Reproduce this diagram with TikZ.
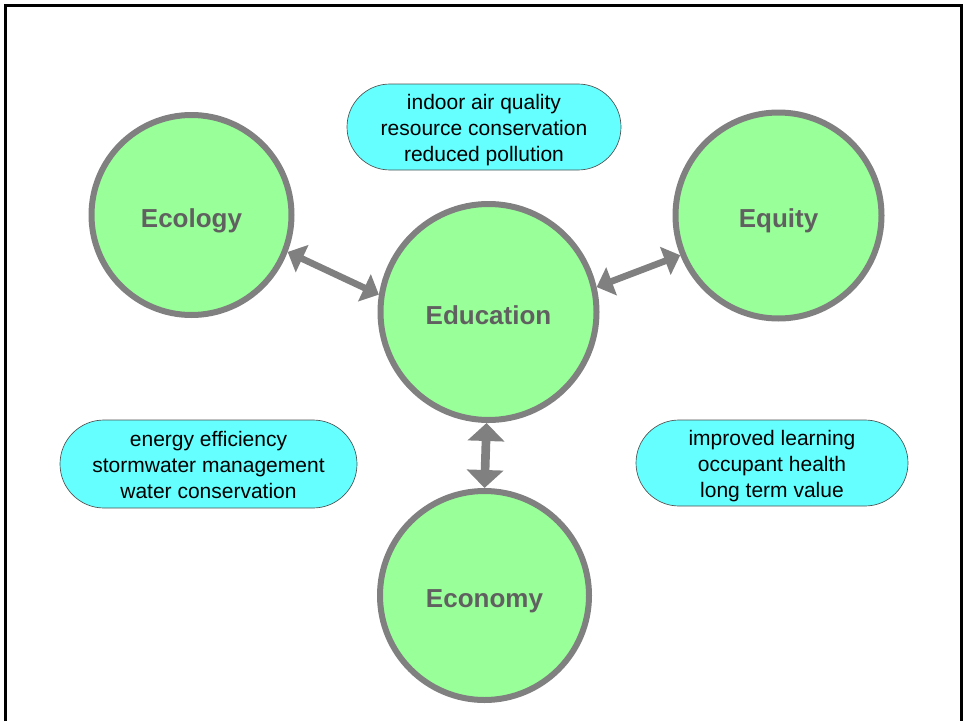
\documentclass[tikz,border=0pt]{standalone}
\usepackage{fontspec}
\setmainfont{Liberation Sans}
\usepackage{xcolor}
\usepackage{tikz}
\usetikzlibrary{arrows.meta}
\usetikzlibrary{shapes,fit,calc,positioning}

\definecolor{ballgreen}{HTML}{99FF99}
\definecolor{pillcyan}{HTML}{66FFFF}
\definecolor{ringgray}{HTML}{808080}
\definecolor{labelgray}{HTML}{606060}
\definecolor{pillline}{HTML}{505050}

\begin{document}
\begin{tikzpicture}[x=0.75pt,y=-0.75pt,
  ball/.style={circle, draw=ringgray, line width=4.5pt, fill=ballgreen, text=labelgray,
    font=\bfseries\fontsize{19.5}{23}\selectfont, inner sep=0pt, text height=18.7pt, text depth=0pt},
  pill/.style={rounded rectangle, draw=pillline, line width=0.5pt, fill=pillcyan,
    align=center, font=\fontsize{15.75}{19.5}\selectfont, inner sep=0pt, text height=55pt, text depth=3.3pt},
  link/.style={{Triangle[length=12pt,width=22pt]}-{Triangle[length=12pt,width=22pt]}, line width=5pt, draw=ringgray}]

\useasboundingbox (0,0) rectangle (963,721);
\draw[line width=2.25pt] (5,721) -- (5,5) -- (961,5) -- (961,721);

\node[ball, minimum size=150pt](eco) at (191.5,215) {Ecology};
\node[ball, minimum size=162pt](edu) at (488.5,312) {Education};
\node[ball, minimum size=154.5pt](equ) at (778.5,215.5) {Equity};
\node[ball, minimum size=156.75pt](econ) at (484.5,595.5) {Economy};

\node[pill, minimum width=205.5pt, minimum height=64.5pt](ptop) at (484,127) {indoor air quality\\resource conservation\\reduced pollution};
\node[pill, minimum width=222.75pt, minimum height=66pt](pleft) at (208.5,464) {energy efficiency\\stormwater management\\water conservation};
\node[pill, minimum width=204pt, minimum height=64.5pt](pright) at (772,463) {improved learning\\occupant health\\long term value};

\draw[link] (eco.-21) -- (edu.171);
\draw[link] (edu.13) -- (equ.-158);
\draw[link, line width=6.5pt, {Triangle[length=13.5pt,width=27pt]}-{Triangle[length=13.5pt,width=27pt]}] (edu.-91) -- (econ.north);
\end{tikzpicture}
\end{document}
